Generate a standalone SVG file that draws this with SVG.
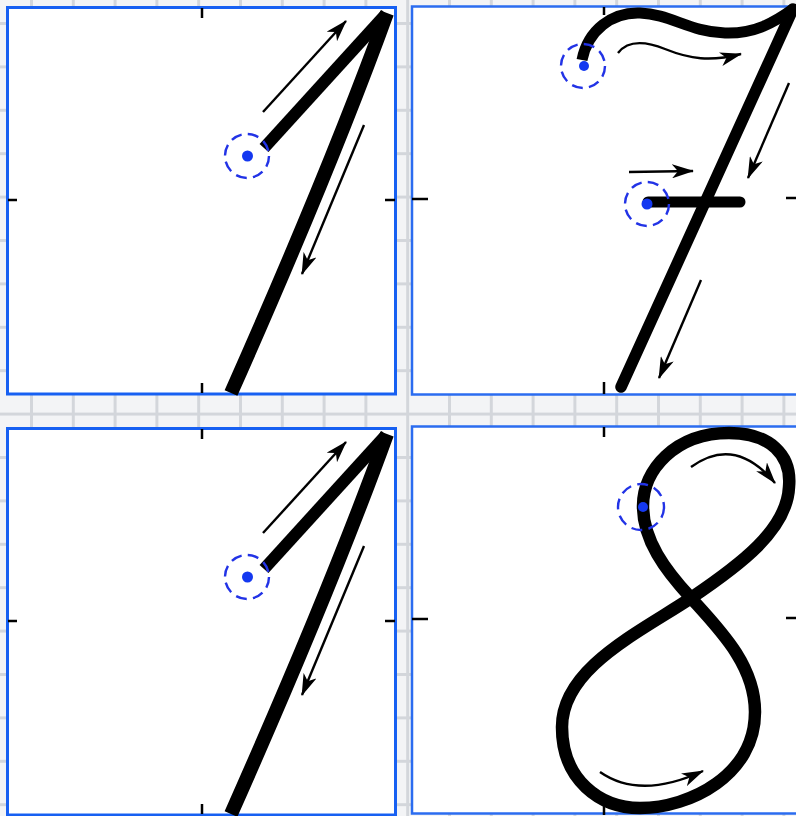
<svg xmlns="http://www.w3.org/2000/svg" width="796" height="816" viewBox="0 0 796 816">
  <defs>
    <pattern id="gridV" x="30" y="0" width="41.8" height="816" patternUnits="userSpaceOnUse">
      <rect x="0" y="0" width="3" height="816" fill="#d3d6db"/>
    </pattern>
    <pattern id="gridH" x="0" y="22" width="796" height="43.4" patternUnits="userSpaceOnUse">
      <rect x="0" y="0" width="796" height="3" fill="#d3d6db"/>
    </pattern>
    <marker id="ah" viewBox="0 0 22 14" refX="21" refY="7" markerWidth="22" markerHeight="14" orient="auto" markerUnits="userSpaceOnUse">
      <path d="M0,0 L22,7 L0,14 L6,7 z" fill="#000"/>
    </marker>
    <style>
      .frame1 { fill: #ffffff; stroke: #1760f2; stroke-width: 3; }
      .frame2 { fill: #ffffff; stroke: #2b6cf0; stroke-width: 2.5; }
      .tick { stroke: #000; stroke-width: 2.5; }
      .thick { fill: none; stroke: #000; stroke-linejoin: round; }
      .arrow { fill: none; stroke: #000; stroke-width: 2.4; marker-end: url(#ah); }
      .ring { fill: none; stroke: #2233e6; stroke-width: 2.4; stroke-dasharray: 11 6.3; }
      .dot { fill: #1438f0; }
    </style>
  </defs>

  <rect x="0" y="0" width="796" height="816" fill="#f3f4f6"/>
  <rect x="0" y="0" width="796" height="816" fill="url(#gridV)"/>
  <rect x="0" y="0" width="796" height="816" fill="url(#gridH)"/>

  <!-- Panel 1: digit 1 (top-left) -->
  <g id="panel-1-top">
    <rect class="frame1" x="7.5" y="7.5" width="388" height="386.5"/>
    <line class="tick" x1="202" y1="8" x2="202" y2="18"/>
    <line class="tick" x1="8" y1="200" x2="17" y2="200"/>
    <line class="tick" x1="385" y1="200" x2="395" y2="200"/>
    <line class="tick" x1="202" y1="383" x2="202" y2="393"/>
    <path class="thick" d="M264,148 L386,14" stroke-width="12"/>
    <path class="thick" d="M387,13 Q330,170 231,393" stroke-width="14" stroke-linecap="butt"/>
    <g class="connectors">
      <path class="arrow" d="M263,112 L346,21"/>
      <path class="arrow" d="M364,125 L302,274"/>
    </g>
    <circle class="ring" cx="247" cy="156" r="22"/>
    <circle class="dot" cx="247.5" cy="156" r="5.5"/>
  </g>

  <!-- Panel 2: digit 7 (top-right) -->
  <g id="panel-7">
    <rect class="frame2" x="412" y="6.5" width="392" height="388"/>
    <line class="tick" x1="604" y1="7" x2="604" y2="15" stroke-width="2"/>
    <line class="tick" x1="412" y1="199" x2="428" y2="199" stroke-width="2"/>
    <line class="tick" x1="786" y1="198" x2="796" y2="198" stroke-width="2"/>
    <line class="tick" x1="604" y1="382" x2="604" y2="394" stroke-width="2"/>
    <path class="thick" d="M582,60 C588,30 612,12 640,13 C670,14 690,32 725,33 C755,34 775,22 793,9" stroke-width="11"/>
    <path class="thick" d="M793,9 L621,387" stroke-width="11.5" stroke-linecap="round"/>
    <path class="thick" d="M648,202 L740,202" stroke-width="11" stroke-linecap="round"/>
    <g class="connectors">
      <path class="arrow" d="M618,53 C628,40 645,41 665,49 C690,59 710,62 741,54"/>
      <path class="arrow" d="M629,172 L693,171"/>
      <path class="arrow" d="M789,83 L748,178"/>
      <path class="arrow" d="M701,280 L659,378"/>
    </g>
    <circle class="ring" cx="583" cy="66" r="22"/>
    <circle class="dot" cx="584" cy="66" r="5"/>
    <circle class="ring" cx="647" cy="204" r="22"/>
    <circle class="dot" cx="647" cy="204" r="5.5"/>
  </g>

  <!-- Panel 3: digit 1 (bottom-left) -->
  <g id="panel-1-bottom" transform="translate(0,421)">
    <rect class="frame1" x="7.5" y="7.5" width="388" height="386.5"/>
    <line class="tick" x1="202" y1="8" x2="202" y2="18"/>
    <line class="tick" x1="8" y1="200" x2="17" y2="200"/>
    <line class="tick" x1="385" y1="200" x2="395" y2="200"/>
    <line class="tick" x1="202" y1="383" x2="202" y2="393"/>
    <path class="thick" d="M264,148 L386,14" stroke-width="12"/>
    <path class="thick" d="M387,13 Q330,170 231,393" stroke-width="14" stroke-linecap="butt"/>
    <g class="connectors">
      <path class="arrow" d="M263,112 L346,21"/>
      <path class="arrow" d="M364,125 L302,274"/>
    </g>
    <circle class="ring" cx="247" cy="156" r="22"/>
    <circle class="dot" cx="247.5" cy="156" r="5.5"/>
  </g>

  <!-- Panel 4: digit 8 (bottom-right) -->
  <g id="panel-8">
    <rect class="frame2" x="412" y="426.5" width="392" height="387"/>
    <line class="tick" x1="604" y1="427" x2="604" y2="437" stroke-width="2"/>
    <line class="tick" x1="412" y1="619" x2="428" y2="619" stroke-width="2"/>
    <line class="tick" x1="786" y1="618" x2="796" y2="618" stroke-width="2"/>
    <line class="tick" x1="604" y1="806" x2="604" y2="815" stroke-width="2"/>
    <path class="thick" stroke-width="12.5" d="M643,506 C643,470 675,433 729,433 C770,433 792,455 789,487 C787,530 740,565 691,598 C640,632 562,668 562,727 C562,780 600,808 640,808 C690,808 755,775 755,712 C755,665 720,630 691,598 C665,570 643,540 643,506 Z"/>
    <g class="connectors">
      <path class="arrow" d="M691,467 Q735,435 775,483"/>
      <path class="arrow" d="M600,772 Q640,800 703,771"/>
    </g>
    <circle class="ring" cx="641" cy="507" r="23"/>
    <circle class="dot" cx="643" cy="507" r="5"/>
  </g>
</svg>
